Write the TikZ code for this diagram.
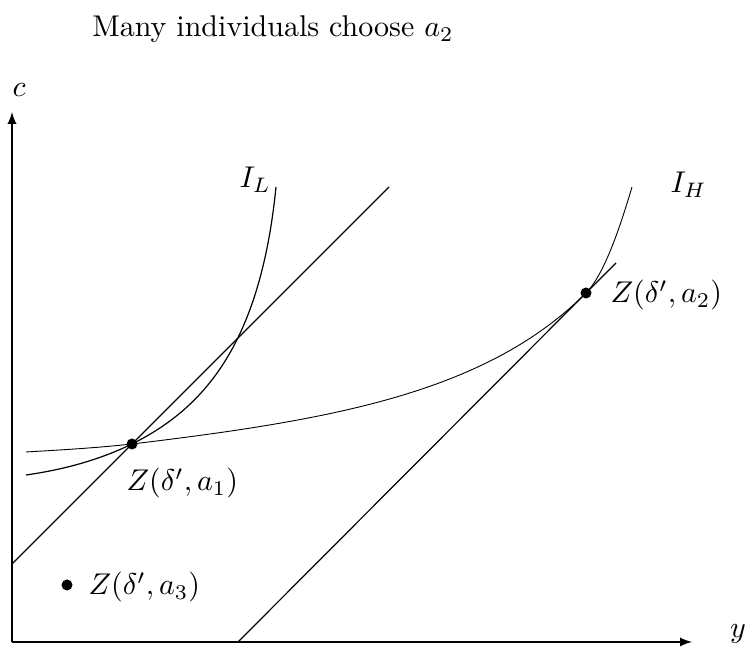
\documentclass[tikz,border=0pt]{standalone}
\usetikzlibrary{arrows}
\begin{document}
\begin{tikzpicture}[x=0.3333pt, y=-0.3333pt]
	\useasboundingbox (0,0) rectangle (749,650);
	\coordinate (O) at (12,642);
	\coordinate (xend) at (692,642);
	\coordinate (yend) at (12,112);
	\coordinate (Z1) at (132,444);
	\coordinate (Z2) at (586,293);
	\coordinate (Z3) at (67,585);
	\node[anchor=base] (title) at (273,37) {Many individuals choose $a_2$};
	\draw[-latex] (O) -- (xend);
	\draw[-latex] (O) -- (yend);
	\node[anchor=base, inner sep=0] (ylab) at (738,638) {$y$};
	\node[anchor=base, inner sep=0] (clab) at (19,97) {$c$};
	% budget lines
	\draw (12,564) -- (Z1) -- (389,187);
	\draw (238,642) -- (Z2) -- (616,263);
	% indifference curves
	\draw (26,475) .. controls (61,470) and (97,461) .. (Z1)
		.. controls (202,409) and (260,347) .. (276,187);
	\draw[line width=0.3pt] (26,452) .. controls (60,450) and (96,448) .. (Z1)
		.. controls (332,420) and (486,393) .. (Z2)
		.. controls (606,273) and (623,217) .. (632,187);
	\node[anchor=base west, inner sep=0] (IL) at (239,188) {$I_L$};
	\node[anchor=base west, inner sep=0] (IH) at (670,193) {$I_H$};
	% points
	\fill (Z1) circle (5.5);
	\fill (Z2) circle (5.5);
	\fill (Z3) circle (5.5);
	\node[anchor=base west, inner sep=0] (Z1lab) at (126,491) {$Z(\delta', a_1)$};
	\node[anchor=base west, inner sep=0] (Z2lab) at (610,303) {$Z(\delta', a_2)$};
	\node[anchor=base west, inner sep=0] (Z3lab) at (88,595) {$Z(\delta', a_3)$};
\end{tikzpicture}
\end{document}
